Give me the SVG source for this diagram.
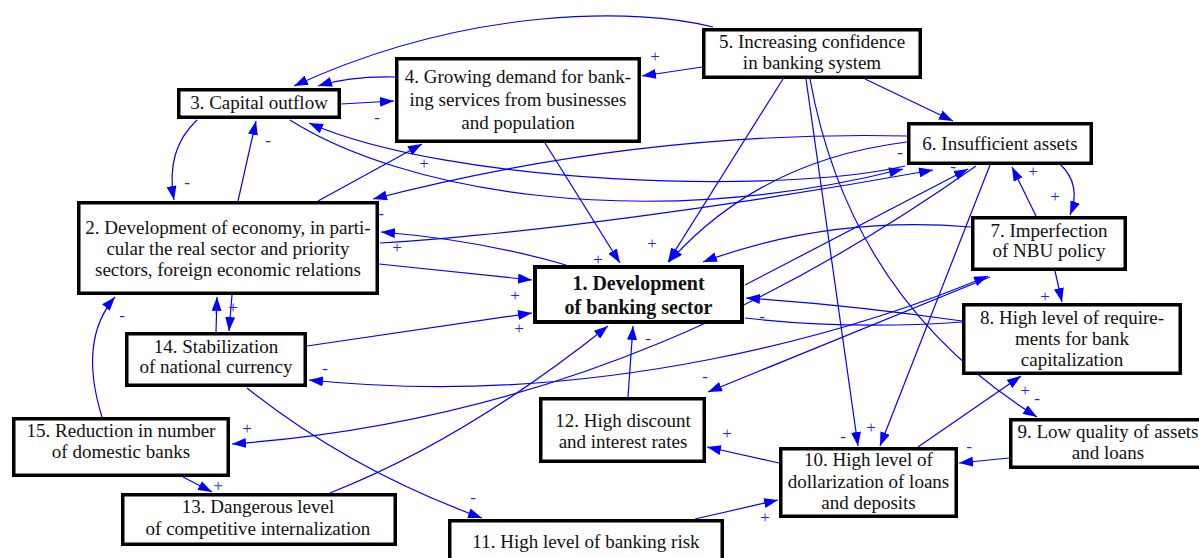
<svg xmlns="http://www.w3.org/2000/svg" width="1199" height="558" viewBox="0 0 1199 558">
<defs>
<style>
.c{fill:none;stroke:#0000ff;stroke-width:1.2;marker-end:url(#ah)}
.n{fill:none;stroke:#0000ff;stroke-width:1.2}
.b{fill:#ffffff;stroke:#000000;stroke-width:3.5}
.t{font-family:"Liberation Serif","Times New Roman",serif;font-size:19px;fill:#111;text-anchor:middle}
.tb{font-family:"Liberation Serif","Times New Roman",serif;font-size:20px;font-weight:bold;fill:#111;text-anchor:middle}
.l{font-family:"Liberation Serif","Times New Roman",serif;font-size:17px;fill:#2020ff;text-anchor:middle}
</style>
<marker id="ah" markerUnits="userSpaceOnUse" viewBox="0 0 14 10" refX="14" refY="5" markerWidth="14" markerHeight="10" orient="auto-start-reverse">
<path d="M0,0 L14,5 L0,10 z" fill="#0000ff"/>
</marker>
</defs>
<rect width="1199" height="558" fill="#ffffff"/>
<g id="connectors">
<path class="c" d="M713,27 C640,8 470,5 294,86"/>
<path class="c" d="M395,77 Q350,76 318,86"/>
<path class="c" d="M341,104 L394,101"/>
<path class="c" d="M702,67 L642,76"/>
<path class="c" d="M865,79 L953,121"/>
<path class="c" d="M783,79 L668,262"/>
<path class="c" d="M806,79 L858,446"/>
<path class="c" d="M810,79 Q850,300 1037,417"/>
<path class="c" d="M1060,164 Q1082,185 1070,215"/>
<path class="c" d="M1036,216 L1012,167"/>
<path class="c" d="M1055,271 L1062,302"/>
<path class="c" d="M918,447 L1021,376"/>
<path class="c" d="M1009,458 L959,463"/>
<path class="c" d="M779,463 L707,447"/>
<path class="c" d="M695,519 L778,500"/>
<path class="c" d="M247,388 Q350,470 482,518"/>
<path class="c" d="M628,397 L633,326"/>
<path class="c" d="M330,493 Q465,440 608,326"/>
<path class="c" d="M183,477 L212,492"/>
<path class="c" d="M102,417 Q78,340 115,297"/>
<path class="c" d="M216,332 L217,297"/>
<path class="c" d="M232,295 L229,331"/>
<path class="c" d="M307,346 L532,313"/>
<path class="c" d="M379,264 L532,280"/>
<path class="c" d="M238,201 L256,121"/>
<path class="c" d="M197,120 Q165,150 174,200"/>
<path class="c" d="M318,201 L422,144"/>
<path class="c" d="M545,143 L620,263"/>
<path class="c" d="M566,265 Q480,240 381,232"/>
<path class="c" d="M907,136 Q640,130 373,199"/>
<path class="c" d="M907,142 Q760,160 669,262"/>
<path class="c" d="M905,166 C780,195 450,185 309,123"/>
<path class="c" d="M290,120 C400,190 640,235 903,169"/>
<path class="c" d="M380,243 C520,235 740,205 933,170"/>
<path class="c" d="M745,285 L968,169"/>
<path class="c" d="M976,166 C800,290 560,420 232,444"/>
<path class="c" d="M971,227 Q830,215 703,262"/>
<path class="c" d="M962,321 Q850,305 746,298"/>
<path class="n" d="M745,318 Q850,330 962,322"/>
<path class="c" d="M990,277 L708,392"/>
<path class="c" style="marker-start:url(#ah)" d="M988,276 C860,330 600,410 309,380"/>
<path class="c" d="M990,165 L880,446"/>
</g>
<g id="labels">
<text class="l" x="655" y="62">+</text>
<text class="l" x="377" y="123">-</text>
<text class="l" x="187" y="188">-</text>
<text class="l" x="268" y="146">-</text>
<text class="l" x="424" y="169">+</text>
<text class="l" x="381" y="219">-</text>
<text class="l" x="397" y="253">+</text>
<text class="l" x="515" y="301">+</text>
<text class="l" x="519" y="334">+</text>
<text class="l" x="598" y="265">+</text>
<text class="l" x="652" y="249">+</text>
<text class="l" x="648" y="344">-</text>
<text class="l" x="762" y="322">-</text>
<text class="l" x="900" y="158">-</text>
<text class="l" x="953" y="172">-</text>
<text class="l" x="1033" y="177">+</text>
<text class="l" x="1055" y="202">+</text>
<text class="l" x="1045" y="302">+</text>
<text class="l" x="1025" y="396">+</text>
<text class="l" x="1037" y="404">-</text>
<text class="l" x="969" y="452">-</text>
<text class="l" x="843" y="442">-</text>
<text class="l" x="871" y="433">+</text>
<text class="l" x="727" y="439">+</text>
<text class="l" x="765" y="523">+</text>
<text class="l" x="473" y="503">-</text>
<text class="l" x="705" y="382">-</text>
<text class="l" x="325" y="374">-</text>
<text class="l" x="247" y="434">+</text>
<text class="l" x="218" y="492" style="fill:#3b6fc0;font-weight:bold">+</text>
<text class="l" x="216" y="316">+</text>
<text class="l" x="233" y="313">+</text>
<text class="l" x="122" y="321">-</text>
</g>
<g id="n1"><rect class="b" style="stroke-width:4" x="535" y="267" width="207" height="55"/><text class="tb" x="638.5" y="290">1. Development</text><text class="tb" x="638.5" y="314">of banking sector</text></g>
<g id="n2"><rect class="b" x="78.75" y="202.75" width="298.5" height="90.5"/><text class="t" x="228" y="234">2. Development of economy, in parti-</text><text class="t" x="228" y="255">cular the real sector and priority</text><text class="t" x="228" y="276">sectors, foreign economic relations</text></g>
<g id="n3"><rect class="b" x="178.75" y="89.75" width="160.5" height="27.5"/><text class="t" x="259" y="109">3. Capital outflow</text></g>
<g id="n4"><rect class="b" x="396.75" y="58.75" width="242.5" height="82.5"/><text class="t" x="518" y="83">4. Growing demand for bank-</text><text class="t" x="518" y="106">ing services from businesses</text><text class="t" x="518" y="129">and population</text></g>
<g id="n5"><rect class="b" x="703.75" y="29.75" width="216.5" height="47.5"/><text class="t" x="812" y="48">5. Increasing confidence</text><text class="t" x="812" y="69">in banking system</text></g>
<g id="n6"><rect class="b" x="908.75" y="123.75" width="182.5" height="39.5"/><text class="t" x="1000" y="150">6. Insufficient assets</text></g>
<g id="n7"><rect class="b" x="972.75" y="217.75" width="152.5" height="51.5"/><text class="t" x="1049" y="237">7. Imperfection</text><text class="t" x="1049" y="257">of NBU policy</text></g>
<g id="n8"><rect class="b" x="963.75" y="304.75" width="216.5" height="68.5"/><text class="t" x="1072" y="324">8. High level of require-</text><text class="t" x="1072" y="345">ments for bank</text><text class="t" x="1072" y="366">capitalization</text></g>
<g id="n9"><rect class="b" x="1010.75" y="419.75" width="195" height="47.5"/><text class="t" x="1108" y="438">9. Low quality of assets</text><text class="t" x="1108" y="459">and loans</text></g>
<g id="n10"><rect class="b" x="780.75" y="448.75" width="175.5" height="67.5"/><text class="t" x="868.5" y="466">10. High level of</text><text class="t" x="868.5" y="488">dollarization of loans</text><text class="t" x="868.5" y="509">and deposits</text></g>
<g id="n11"><rect class="b" x="449.75" y="520.75" width="272.5" height="50"/><text class="t" x="586" y="548">11. High level of banking risk</text></g>
<g id="n12"><rect class="b" x="540.75" y="398.75" width="163.5" height="62.5"/><text class="t" x="623" y="427">12. High discount</text><text class="t" x="623" y="448">and interest rates</text></g>
<g id="n13"><rect class="b" x="122.75" y="494.75" width="272.5" height="49.5"/><text class="t" x="258" y="513">13. Dangerous level</text><text class="t" x="258" y="535">of competitive internalization</text></g>
<g id="n14"><rect class="b" x="126.75" y="333.75" width="178.5" height="51.5"/><text class="t" x="216" y="353">14. Stabilization</text><text class="t" x="216" y="373">of national currency</text></g>
<g id="n15"><rect class="b" x="13.75" y="418.75" width="214.5" height="56.5"/><text class="t" x="121" y="437">15. Reduction in number</text><text class="t" x="121" y="458">of domestic banks</text></g>
</svg>
